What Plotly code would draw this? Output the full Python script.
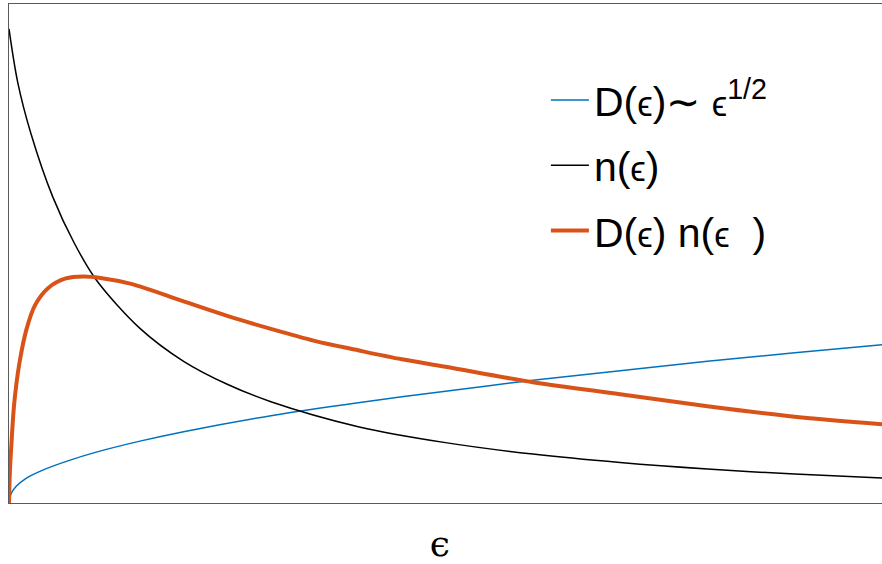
import plotly.graph_objects as go

# Energy axis (arbitrary units, 0..10 across the plot)
x_D = [0.0, 0.02, 0.08, 0.2, 0.4, 0.7, 1.0, 1.5, 2.0, 3.0, 4.0, 5.0, 6.0, 7.0, 8.0, 9.0, 10.0]
y_D = [0.0, 0.17, 0.33, 0.50, 0.67, 0.86, 1.02, 1.24, 1.43, 1.75, 2.01, 2.24, 2.46, 2.65, 2.84, 3.01, 3.17]

x_n = [0.0, 0.1, 0.25, 0.5, 0.75, 1.0, 1.5, 2.0, 2.5, 3.0, 4.0, 5.0, 6.0, 7.0, 8.0, 9.0, 10.0]
y_n = [9.50, 8.43, 7.41, 6.14, 5.20, 4.47, 3.50, 2.84, 2.38, 2.03, 1.53, 1.21, 0.98, 0.81, 0.68, 0.58, 0.50]

x_Dn = [0.0, 0.01, 0.025, 0.06, 0.12, 0.2, 0.3, 0.45, 0.65, 0.85, 1.05, 1.4, 2.0, 2.5, 3.0, 3.5, 4.0, 4.5, 5.0, 6.0, 7.0, 8.0, 9.0, 10.0]
y_Dn = [0.0, 0.62, 1.10, 2.00, 2.81, 3.48, 3.97, 4.31, 4.50, 4.54, 4.51, 4.39, 4.04, 3.75, 3.49, 3.25, 3.06, 2.88, 2.73, 2.42, 2.18, 1.94, 1.73, 1.58]

EPS = '<span style="font-size:35px">ϵ</span>'
names = [
    "D(" + EPS + ")∼ " + EPS + "<sup>1/2</sup>",
    "n(" + EPS + ")",
    "D(" + EPS + ") n(" + EPS + "&nbsp; )",
]

fig = go.Figure()
fig.add_trace(go.Scatter(x=x_D, y=y_D, mode="lines", name=names[0], legendgroup="a",
                         line=dict(color="#0072BD", width=1.5, shape="spline", smoothing=0.9)))
fig.add_trace(go.Scatter(x=x_n, y=y_n, mode="lines", name=names[1], legendgroup="b",
                         line=dict(color="#000000", width=1.5, shape="spline", smoothing=0.9)))
fig.add_trace(go.Scatter(x=x_Dn, y=y_Dn, mode="lines", name=names[2], legendgroup="c",
                         line=dict(color="#D95319", width=4, shape="spline", smoothing=0.9)))

fig.update_layout(
    width=882, height=564,
    margin=dict(l=9, r=0, t=4, b=61),
    paper_bgcolor="white", plot_bgcolor="white",
    font=dict(family="Liberation Sans, Arial, sans-serif", color="black"),
    showlegend=True,
    legend=dict(x=0.615, y=0.874, xanchor="left", yanchor="top",
                font=dict(size=41, color="black"), bgcolor="rgba(0,0,0,0)",
                tracegroupgap=9, itemwidth=38),
    xaxis=dict(range=[0, 10], showgrid=False, zeroline=False, showticklabels=False,
               ticks="", showline=True, mirror=True, linecolor="#5a5a5a", linewidth=1,
               title=dict(text="ϵ&nbsp;", font=dict(size=36, family="DejaVu Serif"), standoff=32)),
    yaxis=dict(range=[0, 10], showgrid=False, zeroline=False, showticklabels=False,
               ticks="", showline=True, mirror=False, linecolor="#5a5a5a", linewidth=1),
)

fig.write_html("out.html")
